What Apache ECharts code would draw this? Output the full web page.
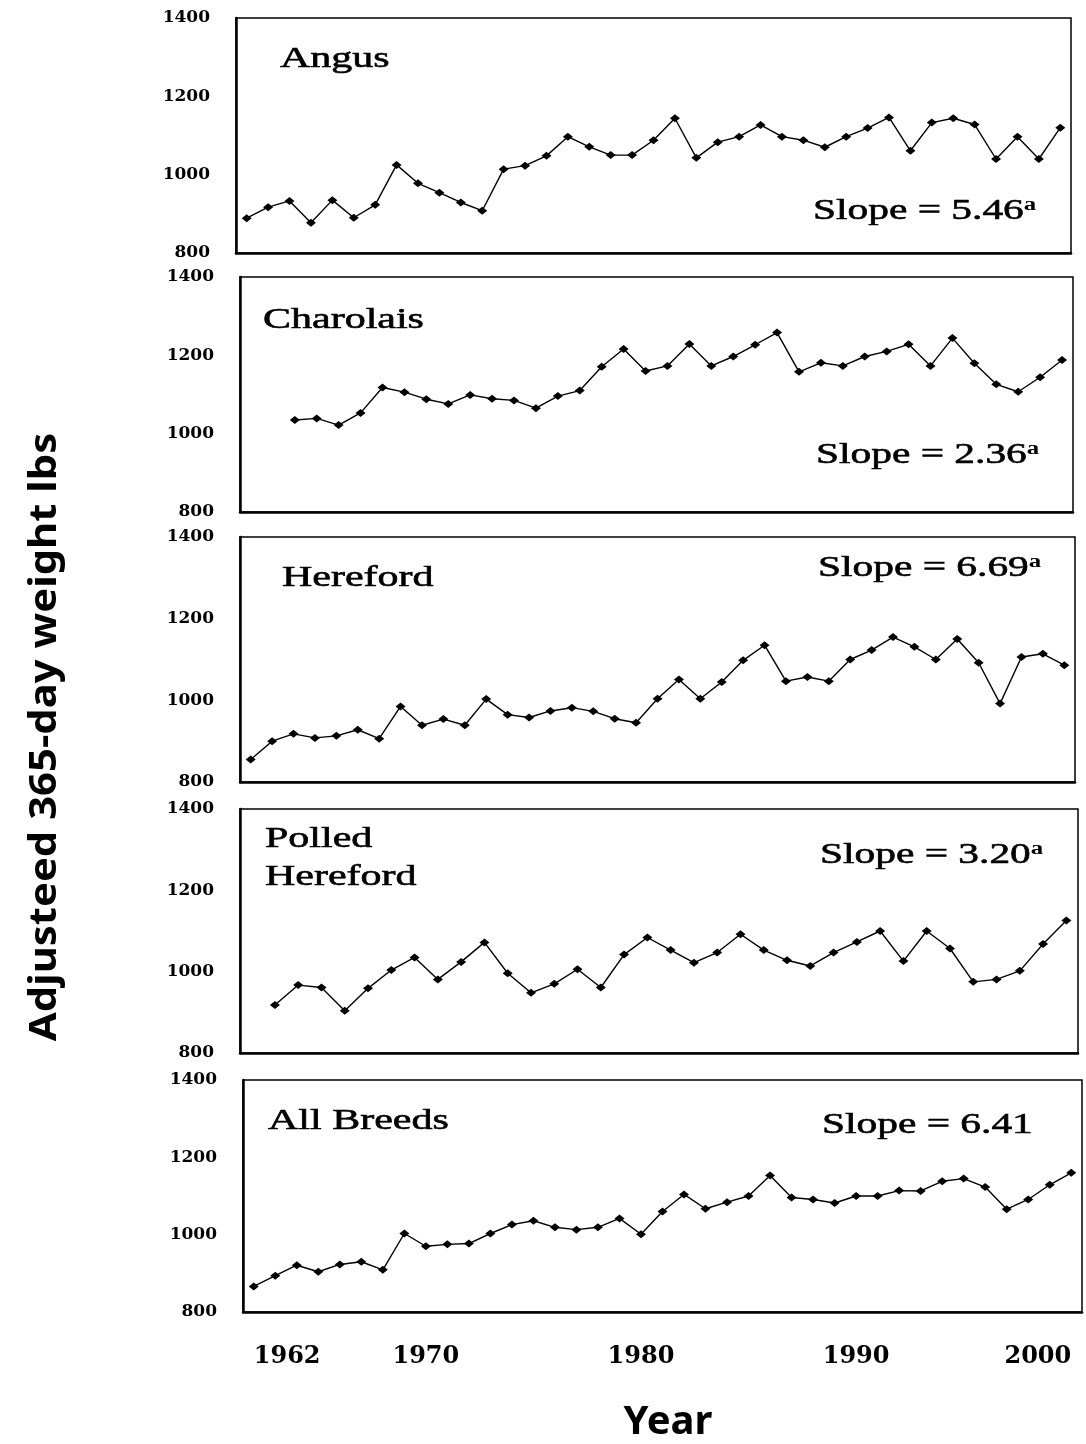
<!DOCTYPE html>
<html><head><meta charset="utf-8">
<script src="https://cdn.jsdelivr.net/npm/echarts@6/dist/echarts.min.js"></script>
<style>html,body{margin:0;padding:0;background:#fff}#c{width:1086px;height:1444px}</style>
</head><body><div id="c"></div>
<script>
// ---- data ----
const angusStart = 1962;
const angus = [889,917,933,877,935,890,923,1025,978,954,929,908,1014,1023,1048,1097,1071,1050,1050,1088,1144,1043,1083,1097,1127,1097,1088,1070,1097,1119,1146,1061,1133,1144,1128,1040,1097,1040,1120];
const charolaisStart = 1964;
const charolais = [1035,1039,1022,1053,1118,1106,1088,1076,1099,1089,1085,1065,1096,1110,1171,1216,1160,1173,1229,1173,1197,1227,1258,1158,1181,1173,1197,1210,1228,1173,1244,1180,1126,1107,1144,1188];
const herefordStart = 1962;
const hereford = [855,900,918,908,913,928,906,985,939,954,939,1003,965,958,974,982,973,955,945,1004,1051,1004,1045,1098,1135,1047,1057,1047,1100,1123,1155,1131,1100,1150,1092,992,1106,1114,1086];
const polledStart = 1963;
const polled = [918,967,961,904,959,1004,1035,981,1024,1072,996,948,970,1006,961,1042,1084,1053,1022,1047,1092,1053,1028,1014,1047,1073,1100,1026,1100,1057,975,981,1002,1068,1126];
const allStart = 1962;
const allBreeds = [866,894,921,904,923,930,909,1003,970,975,977,1003,1026,1036,1019,1013,1019,1042,1001,1060,1104,1067,1084,1100,1153,1096,1091,1082,1100,1100,1114,1113,1138,1145,1123,1066,1091,1129,1160];
const yearTicks = [1962, 1970, 1980, 1990, 2000];
const weightTicks = [800, 1000, 1200, 1400];
const breedNames = ['Angus', 'Charolais', 'Hereford', 'Polled\nHereford', 'All Breeds'];
const slopeValues = ['5.46', '2.36', '6.69', '3.20', '6.41'];
const slopeSignif = [true, true, true, true, false];
const lastYears = [2000, 1999, 2000, 1997, 2000];
const yTitle = 'Adjusteed 365-day weight lbs';
const xTitle = 'Year';

// ---- layout ----
const panels = [
  {start: angusStart, vals: angus, g: [236, 18, 835, 235], t: [280, 59], s: [813, 211]},
  {start: charolaisStart, vals: charolais, g: [240, 277, 833, 235], t: [263, 320], s: [816, 455]},
  {start: herefordStart, vals: hereford, g: [240, 537, 835, 245], t: [282, 578], s: [818, 568]},
  {start: polledStart, vals: polled, g: [240, 809, 838, 244], t: [265, 858], s: [820, 855]},
  {start: allStart, vals: allBreeds, g: [243, 1080, 839, 232], t: [268, 1121], s: [822, 1125]}
];

const grids = [], xAxes = [], yAxes = [], series = [], graphics = [];
panels.forEach((p, i) => {
  const isLast = i === panels.length - 1;
  grids.push({left: p.g[0], top: p.g[1], width: p.g[2], height: p.g[3], show: true,
    borderColor: '#000', borderWidth: 1.5, backgroundColor: '#fff'});
  xAxes.push({type: 'value', gridIndex: i, min: 1961.5, max: lastYears[i] + 0.5,
    splitLine: {show: false}, axisTick: {show: false},
    axisLine: {show: true, onZero: false, lineStyle: {color: '#000', width: 2.5}},
    axisLabel: isLast ? {show: true, customValues: yearTicks, formatter: v => String(v),
      fontFamily: 'DejaVu Serif', fontWeight: 'bold', fontSize: 24, color: '#000', margin: 33,
      alignMinLabel: 'left', alignMaxLabel: 'right'} : {show: false}});
  yAxes.push({type: 'value', gridIndex: i, min: weightTicks[0], max: weightTicks[weightTicks.length - 1], interval: 200,
    splitLine: {show: false}, axisTick: {show: false},
    axisLine: {show: true, lineStyle: {color: '#000', width: 2.5}},
    axisLabel: {formatter: v => String(v), fontFamily: 'DejaVu Serif', fontWeight: 'bold', fontSize: 17, color: '#000', margin: 26}});
  series.push({type: 'line', xAxisIndex: i, yAxisIndex: i,
    data: p.vals.map((v, k) => [p.start + k, v]),
    symbol: 'diamond', symbolSize: [10, 8], showSymbol: true, showAllSymbol: true,
    lineStyle: {color: '#000', width: 1.4}, itemStyle: {color: '#000'},
    animation: false, silent: true});
  graphics.push({type: 'text', x: p.t[0], y: p.t[1], scaleX: 1.4, silent: true,
    style: {text: breedNames[i], font: '30px "Liberation Serif"', fill: '#000', stroke: '#000', lineWidth: 0.6,
      align: 'left', verticalAlign: 'middle', lineHeight: 38}});
  const slopeText = '{m|Slope = ' + slopeValues[i] + '}' + (slopeSignif[i] ? '{s|a}' : '');
  graphics.push({type: 'text', x: p.s[0], y: p.s[1], scaleX: 1.38, silent: true,
    style: {text: slopeText, fill: '#000', align: 'left', verticalAlign: 'middle',
      rich: {m: {fontFamily: 'Liberation Serif', fontSize: 30, fill: '#000', stroke: '#000', lineWidth: 0.6},
             s: {fontFamily: 'Liberation Serif', fontSize: 18, fontWeight: 'bold', fill: '#000', verticalAlign: 'top'}}}});
});

graphics.push({type: 'text', x: 45, y: 737, rotation: Math.PI / 2, scaleX: 1.1, silent: true,
  style: {text: yTitle, font: 'bold 38px "Noto Sans"', fill: '#000', align: 'center', verticalAlign: 'middle'}});
graphics.push({type: 'text', x: 668, y: 1423, silent: true,
  style: {text: xTitle, font: 'bold 40px "Noto Sans"', fill: '#000', align: 'center', verticalAlign: 'middle'}});

const chart = echarts.init(document.getElementById('c'), null, {renderer: 'canvas'});
chart.setOption({
  animation: false,
  backgroundColor: '#fff',
  grid: grids, xAxis: xAxes, yAxis: yAxes, series: series,
  graphic: graphics
});
</script></body></html>
